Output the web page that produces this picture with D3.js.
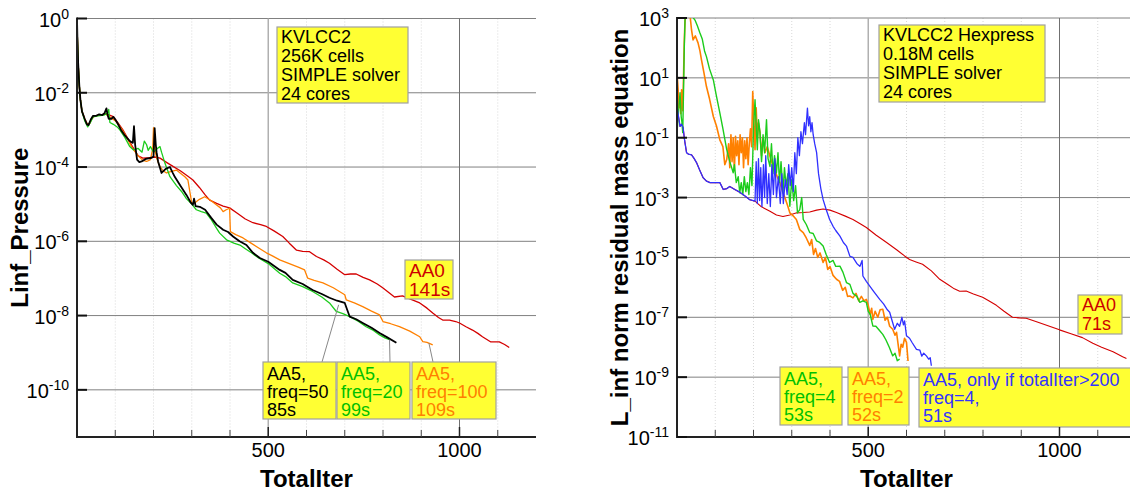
<!DOCTYPE html>
<html>
<head>
<meta charset="utf-8">
<script src="https://cdn.jsdelivr.net/npm/d3@7"></script>
<style>
body { margin: 0; background: #fff; }
text { font-family: "Liberation Sans", Arial, sans-serif; }
</style>
</head>
<body>
<svg id="chart" width="1130" height="492"></svg>
<script>
// ---- data: [TotalIter, log10(residual)] ----
var xTicks = [500, 1000];
var xMinor = [100, 200, 300, 400, 600, 700, 800, 900, 1100];
var leftYTicks = [0, -2, -4, -6, -8, -10];
var rightYTicks = [3, 1, -1, -3, -5, -7, -9, -11];

var leftRed = [[0,0],[1,-0.5],[3,-1.2],[6,-1.8],[9,-2.2],[13,-2.5],[20,-2.7],[26,-2.83],[32,-2.85],[38,-2.7],[45,-2.62],[60,-2.6],[75,-2.57],[85,-2.6],[95,-2.64],[110,-2.85],[120,-3.0],[130,-3.18],[145,-3.45],[160,-3.7],[172,-3.76],[190,-3.75],[205,-3.73],[217,-3.76],[235,-3.88],[252,-3.99],[270,-4.1],[290,-4.25],[303,-4.35],[320,-4.55],[335,-4.75],[347,-4.89],[365,-4.98],[382,-5.05],[399,-5.1],[420,-5.25],[440,-5.4],[460,-5.5],[480,-5.55],[495,-5.6],[515,-5.72],[538,-5.87],[555,-6.05],[574,-6.24],[590,-6.27],[608,-6.28],[626,-6.41],[645,-6.5],[660,-6.59],[680,-6.75],[700,-6.9],[715,-6.88],[730,-6.88],[748,-6.97],[765,-7.04],[785,-7.15],[800,-7.26],[815,-7.38],[830,-7.5],[851,-7.47],[870,-7.55],[896,-7.66],[915,-7.8],[930,-7.93],[945,-8.05],[956,-8.12],[974,-8.12],[990,-8.16],[1000,-8.2],[1017,-8.3],[1034,-8.39],[1048,-8.48],[1060,-8.57],[1082,-8.71],[1104,-8.71],[1118,-8.78],[1130,-8.86]];

var leftOrange = [[0,0],[1,-0.5],[3,-1.2],[6,-1.8],[9,-2.2],[13,-2.5],[20,-2.7],[26,-2.83],[32,-2.85],[38,-2.72],[45,-2.63],[60,-2.6],[75,-2.57],[85,-2.65],[100,-2.75],[115,-2.95],[130,-3.2],[145,-3.5],[160,-3.7],[172,-3.82],[182,-3.85],[192,-3.8],[198,-3.5],[200,-2.94],[203,-3.5],[208,-3.75],[215,-3.95],[225,-4.1],[234,-4.16],[247,-4.12],[260,-4.08],[272,-4.18],[282,-4.26],[290,-4.35],[294,-4.6],[300,-4.97],[310,-4.95],[320,-4.87],[334,-4.8],[350,-4.9],[365,-5.02],[375,-5.1],[382,-5.2],[390,-5.15],[399,-5.11],[401,-5.74],[415,-5.82],[434,-5.91],[455,-6.05],[475,-6.18],[495,-6.31],[512,-6.4],[530,-6.5],[555,-6.6],[580,-6.7],[595,-6.77],[603,-6.99],[620,-7.05],[643,-7.12],[670,-7.25],[700,-7.44],[704,-7.58],[725,-7.66],[747,-7.76],[770,-7.88],[791,-7.98],[800,-8.16],[820,-8.22],[843,-8.3],[870,-8.42],[896,-8.57],[904,-8.7],[915,-8.72],[930,-8.79]];

var leftGreen = [[0,0],[1,-0.5],[3,-1.2],[6,-1.8],[9,-2.2],[13,-2.5],[20,-2.75],[28,-2.92],[35,-2.8],[42,-2.65],[55,-2.62],[70,-2.6],[80,-2.55],[83,-2.45],[86,-2.8],[95,-2.85],[105,-2.92],[112,-3.0],[125,-3.2],[138,-3.45],[148,-3.54],[160,-3.5],[170,-3.6],[176,-3.3],[182,-3.4],[186,-3.55],[192,-3.45],[200,-3.6],[210,-3.5],[217,-3.45],[221,-3.6],[230,-3.9],[243,-4.26],[260,-4.5],[275,-4.68],[286,-4.85],[300,-5.0],[312,-5.15],[325,-5.2],[338,-5.24],[350,-5.4],[365,-5.65],[373,-5.78],[391,-5.96],[410,-6.05],[426,-6.1],[440,-6.2],[456,-6.31],[475,-6.45],[500,-6.6],[530,-6.86],[545,-6.95],[564,-7.12],[590,-7.22],[616,-7.35],[640,-7.5],[660,-7.66],[678,-7.89],[695,-7.95],[713,-8.03],[735,-8.15],[756,-8.3],[775,-8.4],[791,-8.52],[805,-8.6],[817,-8.65]];

var leftBlack = [[0,0],[1,-0.5],[3,-1.2],[6,-1.8],[9,-2.2],[13,-2.5],[20,-2.7],[26,-2.85],[30,-2.87],[36,-2.72],[42,-2.62],[50,-2.62],[58,-2.58],[66,-2.6],[72,-2.55],[77,-2.42],[80,-2.6],[83,-2.7],[90,-2.7],[95,-2.65],[100,-2.72],[106,-2.82],[115,-3.0],[125,-3.15],[138,-3.3],[146,-3.35],[149,-2.9],[152,-3.4],[157,-3.8],[163,-3.87],[169,-3.85],[180,-3.78],[195,-3.75],[200,-3.72],[203,-2.95],[206,-3.4],[208,-3.6],[212,-3.85],[221,-4.16],[232,-4.05],[243,-4.0],[250,-4.15],[256,-4.27],[270,-4.5],[286,-4.75],[297,-4.95],[303,-5.02],[306,-4.85],[310,-5.05],[321,-5.07],[335,-5.15],[351,-5.37],[365,-5.55],[382,-5.69],[395,-5.75],[408,-5.87],[425,-6.0],[443,-6.1],[460,-6.31],[478,-6.45],[500,-6.55],[530,-6.77],[545,-6.85],[564,-7.04],[590,-7.15],[616,-7.31],[640,-7.42],[660,-7.52],[680,-7.6],[700,-7.66],[713,-8.03],[730,-8.1],[747,-8.2],[770,-8.33],[791,-8.47],[810,-8.58],[835,-8.73]];

var rightRed = [[0,0.05],[4,-0.3],[8,-0.62],[12,-0.55],[16,-0.67],[20,-1.1],[25,-1.5],[30,-1.55],[38,-1.57],[45,-1.7],[51,-1.83],[60,-2.1],[68,-2.33],[77,-2.45],[86,-2.5],[100,-2.5],[112,-2.5],[121,-2.73],[130,-2.7],[138,-2.63],[150,-2.72],[164,-2.82],[178,-2.95],[190,-3.07],[204,-3.12],[220,-3.3],[243,-3.46],[260,-3.58],[277,-3.63],[295,-3.58],[313,-3.51],[330,-3.5],[347,-3.48],[365,-3.42],[382,-3.38],[400,-3.42],[417,-3.5],[440,-3.62],[460,-3.73],[480,-3.88],[495,-4.0],[520,-4.25],[548,-4.5],[575,-4.75],[595,-4.95],[608,-5.07],[625,-5.15],[642,-5.23],[665,-5.45],[687,-5.73],[710,-5.92],[725,-6.05],[739,-6.13],[756,-6.12],[775,-6.22],[799,-6.33],[815,-6.45],[835,-6.6],[855,-6.8],[877,-7.0],[895,-7.02],[913,-7.03],[940,-7.15],[970,-7.28],[1000,-7.42],[1030,-7.55],[1060,-7.68],[1087,-7.87],[1110,-8.0],[1140,-8.15],[1165,-8.32],[1175,-8.38]];

var rightOrange = [[0,1.17],[3,0.6],[5,0.0],[8,0.27],[10,-0.2],[12,0.6],[15,-0.1],[17,1.0],[19,2.2],[21,2.93],[25,3.1],[34,3.1],[38,2.6],[42,2.27],[48,2.4],[55,2.17],[60,1.9],[64,1.6],[70,1.2],[77,0.71],[85,0.3],[95,-0.29],[103,-0.6],[112,-1.07],[120,-1.3],[125,-1.9],[130,-1.73],[135,-1.2],[138,-2.0],[141,-0.9],[144,-1.8],[147,-1.0],[150,-2.1],[153,-0.95],[156,-1.6],[159,-1.1],[162,-1.9],[165,-0.9],[168,-1.5],[171,-1.0],[174,-2.0],[177,-1.1],[180,-1.7],[183,-1.0],[186,-1.9],[189,-1.2],[192,-0.7],[195,-1.3],[198,0.54],[201,-0.5],[204,-1.4],[207,0.0],[210,-1.0],[213,-0.5],[217,-0.83],[221,-1.6],[225,-1.0],[230,-1.5],[236,-1.3],[243,-1.62],[250,-1.9],[256,-2.1],[262,-2.3],[269,-2.5],[276,-2.8],[282,-3.0],[290,-3.3],[295,-3.51],[303,-3.6],[312,-3.73],[321,-4.07],[330,-4.17],[338,-4.35],[347,-4.6],[352,-4.4],[357,-4.9],[362,-4.7],[368,-5.0],[374,-4.85],[382,-5.17],[388,-5.0],[394,-5.4],[400,-5.3],[408,-5.6],[417,-5.73],[425,-5.8],[433,-6.1],[440,-6.0],[446,-6.3],[452,-6.29],[460,-6.35],[468,-6.2],[475,-6.45],[482,-6.3],[489,-6.45],[495,-6.4],[500,-6.6],[505,-6.9],[509,-6.7],[512,-7.07],[518,-6.8],[525,-7.0],[531,-6.75],[538,-6.73],[544,-7.1],[550,-7.0],[556,-7.3],[564,-7.4],[570,-7.6],[574,-7.5],[578,-7.9],[582,-8.29],[586,-7.9],[590,-8.0],[595,-7.7],[600,-7.84],[603,-8.3],[604,-8.46]];

var rightGreen = [[0,-0.83],[3,-0.3],[6,0.2],[8,0.5],[11,-0.3],[13,-0.5],[15,-0.83],[17,0.5],[19,2.0],[21,2.93],[22,3.1],[30,3.1],[40,3.05],[47,2.93],[53,2.75],[60,2.5],[66,2.3],[72,1.9],[77,1.71],[85,1.3],[95,0.93],[103,0.4],[112,-0.17],[120,-0.7],[130,-1.4],[138,-1.8],[147,-2.17],[150,-1.9],[155,-2.5],[160,-2.3],[164,-2.84],[168,-2.5],[172,-2.9],[176,-2.3],[180,-2.8],[184,-2.5],[188,-2.9],[192,-2.0],[196,-2.6],[200,-0.7],[204,0.27],[207,-0.6],[210,-1.4],[213,-0.4],[217,-0.83],[221,-1.8],[225,-0.9],[229,-1.5],[234,-0.4],[238,-1.7],[243,-1.96],[247,-1.2],[251,-2.2],[255,-1.6],[260,-2.17],[264,-1.5],[268,-2.5],[272,-1.8],[277,-2.84],[281,-2.0],[285,-2.6],[290,-2.2],[295,-3.29],[300,-2.4],[305,-3.1],[310,-2.6],[315,-3.51],[321,-3.4],[326,-3.0],[330,-3.73],[338,-3.9],[347,-4.17],[356,-4.2],[365,-4.45],[373,-4.5],[382,-4.62],[390,-4.9],[399,-5.17],[408,-5.1],[415,-5.3],[426,-5.29],[434,-5.5],[443,-5.84],[452,-5.9],[460,-6.2],[470,-6.3],[478,-6.5],[486,-6.45],[495,-6.5],[500,-6.8],[505,-6.9],[512,-7.29],[520,-7.3],[530,-7.45],[538,-7.57],[546,-7.75],[555,-8.0],[564,-8.29],[570,-8.2],[576,-8.45],[582,-8.4]];

var rightBlue = [[0,0.05],[4,-0.3],[8,-0.62],[12,-0.55],[16,-0.67],[20,-1.1],[25,-1.5],[30,-1.55],[38,-1.57],[45,-1.7],[51,-1.83],[60,-2.1],[68,-2.33],[77,-2.45],[86,-2.5],[100,-2.5],[112,-2.5],[121,-2.73],[130,-2.7],[138,-2.63],[150,-2.72],[164,-2.82],[178,-2.95],[190,-3.07],[200,-3.1],[204,-3.12],[207,-1.8],[210,-3.2],[213,-1.7],[216,-3.1],[219,-2.0],[222,-3.3],[226,-1.9],[229,-3.0],[232,-1.6],[236,-3.2],[240,-2.2],[244,-3.3],[248,-1.9],[252,-2.9],[256,-1.7],[260,-3.0],[265,-2.3],[270,-3.2],[274,-2.2],[278,-3.2],[283,-2.4],[288,-2.9],[292,-1.9],[296,-2.6],[300,-2.0],[304,-2.8],[308,-1.5],[312,-2.2],[316,-1.0],[320,-1.6],[324,-0.8],[328,-1.2],[333,-0.5],[336,-0.9],[341,-0.01],[344,-0.6],[347,-0.3],[350,-0.8],[353,-0.5],[356,-0.9],[360,-1.2],[365,-1.5],[370,-2.2],[376,-2.7],[382,-3.07],[390,-3.4],[399,-3.73],[408,-3.96],[415,-4.1],[426,-4.29],[435,-4.5],[443,-4.62],[452,-4.96],[460,-5.0],[470,-5.2],[478,-5.3],[484,-5.1],[486,-5.62],[495,-5.8],[504,-5.96],[515,-6.15],[530,-6.4],[540,-6.55],[550,-6.75],[556,-6.83],[562,-7.1],[569,-7.4],[576,-7.2],[582,-7.3],[588,-7.0],[592,-7.25],[595,-7.12],[600,-7.62],[608,-7.7],[615,-7.85],[626,-8.07],[635,-8.1],[640,-8.3],[645,-8.2],[652,-8.29],[658,-8.4],[662,-8.35],[665,-8.62]];

var svg = d3.select("#chart");
var YELLOW = "#ffff33";

function drawPanel(p) {
	var x = d3.scaleLinear().domain([0, 1200]).range([p.left, p.right]);
	var y = d3.scaleLog().domain([Math.pow(10, p.yMin), Math.pow(10, p.yMax)]).range([p.bottom, p.top]);
	var g = svg.append("g");

	g.append("clipPath").attr("id", p.id + "-clip")
		.append("rect").attr("x", p.left).attr("y", p.top)
		.attr("width", p.right - p.left).attr("height", p.bottom - p.top);

	// grid
	g.selectAll(".minorGrid").data(xMinor).enter().append("line")
		.attr("x1", x).attr("x2", x).attr("y1", p.top).attr("y2", p.bottom)
		.attr("stroke", "#d8d8d8").attr("stroke-dasharray", "1,2");
	g.selectAll(".hGrid").data(p.yTicks).enter().append("line")
		.attr("x1", p.left).attr("x2", p.right)
		.attr("y1", function(d) { return y(Math.pow(10, d)); })
		.attr("y2", function(d) { return y(Math.pow(10, d)); })
		.attr("stroke", "#808080");
	g.selectAll(".vGrid").data(xTicks).enter().append("line")
		.attr("x1", x).attr("x2", x).attr("y1", p.top).attr("y2", p.bottom)
		.attr("stroke", function(d) { return d == 500 ? "#b0b0b0" : "#707070"; })
		.attr("stroke-width", function(d) { return d == 500 ? 1.5 : 1; });

	// curves
	var line = d3.line()
		.x(function(d) { return x(d[0]); })
		.y(function(d) { return y(Math.pow(10, d[1])); });
	var curves = g.append("g").attr("clip-path", "url(#" + p.id + "-clip)");
	p.series.forEach(function(s) {
		curves.append("path").datum(s.data)
			.attr("d", line).attr("fill", "none")
			.attr("stroke", s.color).attr("stroke-width", s.width)
			.attr("stroke-linejoin", "round");
	});

	// leader lines
	(p.leaders || []).forEach(function(l) {
		g.append("line")
			.attr("x1", x(l.at[0])).attr("y1", y(Math.pow(10, l.at[1])))
			.attr("x2", l.to[0]).attr("y2", l.to[1])
			.attr("stroke", "#888").attr("stroke-width", 1);
	});

	// boxes
	p.boxes.forEach(function(b) {
		g.append("rect").attr("x", b.x).attr("y", b.y).attr("width", b.w).attr("height", b.h)
			.attr("fill", YELLOW).attr("stroke", "#a0a0a0").attr("stroke-width", 1.2);
		g.selectAll(null).data(b.lines).enter().append("text")
			.attr("x", b.x + 4)
			.attr("y", function(d, i) { return b.y + b.first + i * b.step; })
			.attr("font-size", b.size).attr("fill", b.color)
			.text(function(d) { return d; });
	});

	// axes
	var ax = g.append("g");
	ax.append("line").attr("x1", p.left).attr("x2", p.right).attr("y1", p.bottom).attr("y2", p.bottom)
		.attr("stroke", "#222").attr("stroke-width", 2);
	ax.append("line").attr("x1", p.left).attr("x2", p.left).attr("y1", p.top - 1).attr("y2", p.bottom + 1)
		.attr("stroke", "#222").attr("stroke-width", 2);
	ax.selectAll(".xt").data(xTicks).enter().append("line")
		.attr("x1", x).attr("x2", x).attr("y1", p.bottom).attr("y2", p.bottom - 10)
		.attr("stroke", "#222").attr("stroke-width", 1.5);
	ax.selectAll(".xm").data(xMinor).enter().append("line")
		.attr("x1", x).attr("x2", x).attr("y1", p.bottom).attr("y2", p.bottom - 7)
		.attr("stroke", "#444").attr("stroke-width", 1);
	ax.selectAll(".yt").data(p.yTicks).enter().append("line")
		.attr("x1", p.left).attr("x2", p.left + 10)
		.attr("y1", function(d) { return y(Math.pow(10, d)); })
		.attr("y2", function(d) { return y(Math.pow(10, d)); })
		.attr("stroke", "#111").attr("stroke-width", 2);

	ax.selectAll(".xl").data(xTicks).enter().append("text")
		.attr("x", x).attr("y", p.bottom + 20)
		.attr("text-anchor", "middle").attr("font-size", 20)
		.text(function(d) { return d; });

	var yl = ax.selectAll(".yl").data(p.yTicks).enter().append("text")
		.attr("x", p.left - 8)
		.attr("y", function(d) { return y(Math.pow(10, d)) + 8; })
		.attr("text-anchor", "end").attr("font-size", 20);
	yl.append("tspan").text("10");
	yl.append("tspan").attr("dy", -8).attr("font-size", 14)
		.text(function(d) { return d < 0 ? "-" + (-d) : d; });

	ax.append("text")
		.attr("x", (p.left + p.right) / 2).attr("y", 487)
		.attr("text-anchor", "middle").attr("font-size", 24).attr("font-weight", "bold")
		.text("TotalIter");
	ax.append("text")
		.attr("transform", "translate(" + p.titleX + "," + ((p.top + p.bottom) / 2) + ") rotate(-90)")
		.attr("text-anchor", "middle").attr("font-size", 24).attr("font-weight", "bold")
		.text(p.title);
}

drawPanel({
	id: "left", left: 77, right: 536, top: 18.5, bottom: 437,
	yMin: -11.27, yMax: 0, yTicks: leftYTicks,
	title: "Linf_Pressure", titleX: 28,
	series: [
		{ data: leftRed, color: "#d40000", width: 1.3 },
		{ data: leftOrange, color: "#ff8000", width: 1.3 },
		{ data: leftGreen, color: "#1ccc1c", width: 1.3 },
		{ data: leftBlack, color: "#000", width: 1.8 }
	],
	leaders: [
		{ at: [684, -7.71], to: [322, 362] },
		{ at: [817, -8.65], to: [390, 362] },
		{ at: [920, -8.74], to: [433, 362] }
	],
	boxes: [
		{ x: 277, y: 27, w: 131, h: 76, first: 16, step: 19, size: 18, color: "#000",
			lines: ["KVLCC2", "256K cells", "SIMPLE solver", "24 cores"] },
		{ x: 405, y: 260, w: 48, h: 39, first: 17, step: 19, size: 19, color: "#cc0000",
			lines: ["AA0", "141s"] },
		{ x: 263, y: 362, w: 73, h: 57, first: 18, step: 18, size: 18, color: "#000",
			lines: ["AA5,", "freq=50", "85s"] },
		{ x: 337, y: 362, w: 73, h: 57, first: 18, step: 18, size: 18, color: "#00c000",
			lines: ["AA5,", "freq=20", "99s"] },
		{ x: 412, y: 362, w: 84, h: 57, first: 18, step: 18, size: 18, color: "#ff8000",
			lines: ["AA5,", "freq=100", "109s"] }
	]
});

drawPanel({
	id: "right", left: 677, right: 1136, top: 18, bottom: 437,
	yMin: -11, yMax: 3, yTicks: rightYTicks,
	title: "L_inf norm residual mass equation", titleX: 628,
	series: [
		{ data: rightRed, color: "#d40000", width: 1.1 },
		{ data: rightOrange, color: "#ff8000", width: 1.6 },
		{ data: rightGreen, color: "#1ccc1c", width: 1.4 },
		{ data: rightBlue, color: "#3030ff", width: 1.3 }
	],
	boxes: [
		{ x: 879, y: 25, w: 166, h: 77, first: 16, step: 19, size: 18, color: "#000",
			lines: ["KVLCC2 Hexpress", "0.18M cells", "SIMPLE solver", "24 cores"] },
		{ x: 1078, y: 295, w: 44, h: 39, first: 16, step: 19, size: 18, color: "#cc0000",
			lines: ["AA0", "71s"] },
		{ x: 780, y: 367, w: 62, h: 58, first: 18, step: 18, size: 18, color: "#00c000",
			lines: ["AA5,", "freq=4", "53s"] },
		{ x: 848, y: 367, w: 61, h: 58, first: 18, step: 18, size: 18, color: "#ff8000",
			lines: ["AA5,", "freq=2", "52s"] },
		{ x: 919, y: 368, w: 220, h: 59, first: 18, step: 18, size: 18, color: "#3333ff",
			lines: ["AA5, only if totalIter>200", "freq=4,", "51s"] }
	]
});
</script>
</body>
</html>
